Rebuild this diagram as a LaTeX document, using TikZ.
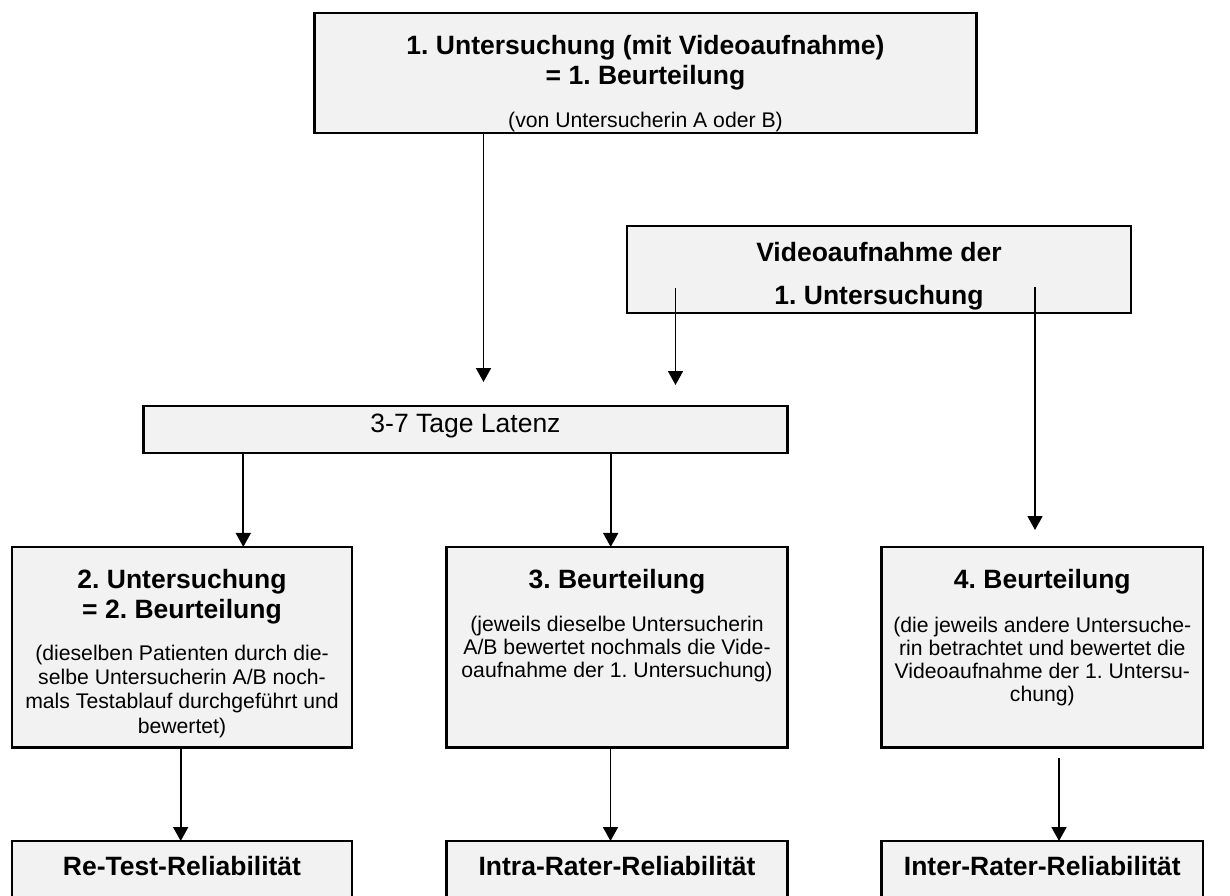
\documentclass[tikz,border=0pt]{standalone}
\usepackage{fontspec}
\setmainfont{Liberation Sans}
\usetikzlibrary{arrows.meta}
\definecolor{boxfill}{HTML}{F2F2F2}
\newcommand{\mytab}[1]{\begin{tabular}[t]{@{}c@{}}#1\end{tabular}}
\frenchspacing
\begin{document}
\begin{tikzpicture}[x=1pt,y=-1pt,
  box/.style={draw=black,line width=2.3pt,fill=boxfill,inner sep=0pt,outer sep=0pt},
  conn/.style={line width=1.7pt,-{Triangle[length=14pt,width=15pt]}},
  bold/.style={font=\bfseries\fontsize{26.5}{29.5}\selectfont,inner sep=0pt,anchor=base},
  reg/.style={font=\fontsize{26.5}{29.5}\selectfont,inner sep=0pt,anchor=base},
  small/.style={font=\fontsize{21.2}{22.8}\selectfont,inner sep=0pt,anchor=base}]
\useasboundingbox (0,0) rectangle (1230,895);
\clip (0,0) rectangle (1230,895);
\fill[white] (0,0) rectangle (1230,895);

% boxes
\node[box,minimum width=662pt,minimum height=120pt] (top) at (645.5,72.7) {};
\node[box,minimum width=504pt,minimum height=87pt] (video) at (879,269.5) {};
\node[box,minimum width=644pt,minimum height=47pt] (lat) at (465.5,429.5) {};
\node[box,minimum width=340.5pt,minimum height=200.5pt] (b2) at (182,647.2) {};
\node[box,minimum width=341pt,minimum height=200.5pt] (b3) at (617,647.2) {};
\node[box,minimum width=321.5pt,minimum height=200.5pt] (b4) at (1042.3,647.2) {};
\node[box,minimum width=340.5pt,minimum height=80pt] (r1) at (182,881) {};
\node[box,minimum width=341pt,minimum height=80pt] (r2) at (617,881) {};
\node[box,minimum width=321.5pt,minimum height=80pt] (r3) at (1042.3,881) {};

% texts
\node[bold] (ttop) at (645.5,54.5) {\mytab{1. Untersuchung (mit Videoaufnahme)\\= 1. Beurteilung}};
\node[small] (stop) at (645.5,127) {(von Untersucherin A oder B)};
\node[bold,font=\bfseries\fontsize{26.5}{43}\selectfont] (tvid) at (879,261) {\mytab{Videoaufnahme der\\1. Untersuchung}};
\node[reg] (tlat) at (465.5,432) {3-7 Tage Latenz};
\node[bold,font=\bfseries\fontsize{26.5}{30}\selectfont] (t2) at (182,588.3) {\mytab{2. Untersuchung\\= 2. Beurteilung}};
\node[small,font=\fontsize{21.2}{24.4}\selectfont] (s2) at (182,660) {\mytab{(dieselben Patienten durch die-\\selbe Untersucherin A/B noch-\\mals Testablauf durchgeführt und\\bewertet)}};
\node[bold] (t3) at (617,588.3) {3. Beurteilung};
\node[small] (s3) at (617,631.7) {\mytab{(jeweils dieselbe Untersucherin\\A/B bewertet nochmals die Vide-\\oaufnahme der 1. Untersuchung)}};
\node[bold] (t4) at (1042.3,588.3) {4. Beurteilung};
\node[small] (s4) at (1042.3,632.7) {\mytab{(die jeweils andere Untersuche-\\rin betrachtet und bewertet die\\Videoaufnahme der 1. Untersu-\\chung)}};
\node[bold] (tr1) at (182,875) {Re-Test-Reliabilität};
\node[bold] (tr2) at (617,875) {Intra-Rater-Reliabilität};
\node[bold] (tr3) at (1042.3,875) {Inter-Rater-Reliabilität};

% connectors
\coordinate (e1) at (483.5,382);
\draw[conn] (top.south -| e1) -- (e1);
\coordinate (v1s) at (675.5,288);
\coordinate (v1e) at (675.5,385);
\draw[conn] (v1s) -- (v1e);
\coordinate (v2s) at (1035,287);
\coordinate (v2e) at (1035,530);
\draw[conn] (v2s) -- (v2e);
\coordinate (l1) at (243.3,0);
\draw[conn] (lat.south -| l1) -- (b2.north -| l1);
\coordinate (l2) at (610.7,0);
\draw[conn] (lat.south -| l2) -- (b3.north -| l2);
\coordinate (d1) at (180.7,0);
\draw[conn] (b2.south -| d1) -- (r1.north -| d1);
\coordinate (d2) at (610.5,0);
\draw[conn] (b3.south -| d2) -- (r2.north -| d2);
\coordinate (d3s) at (1059,758);
\draw[conn] (d3s) -- (r3.north -| d3s);
\end{tikzpicture}
\end{document}
